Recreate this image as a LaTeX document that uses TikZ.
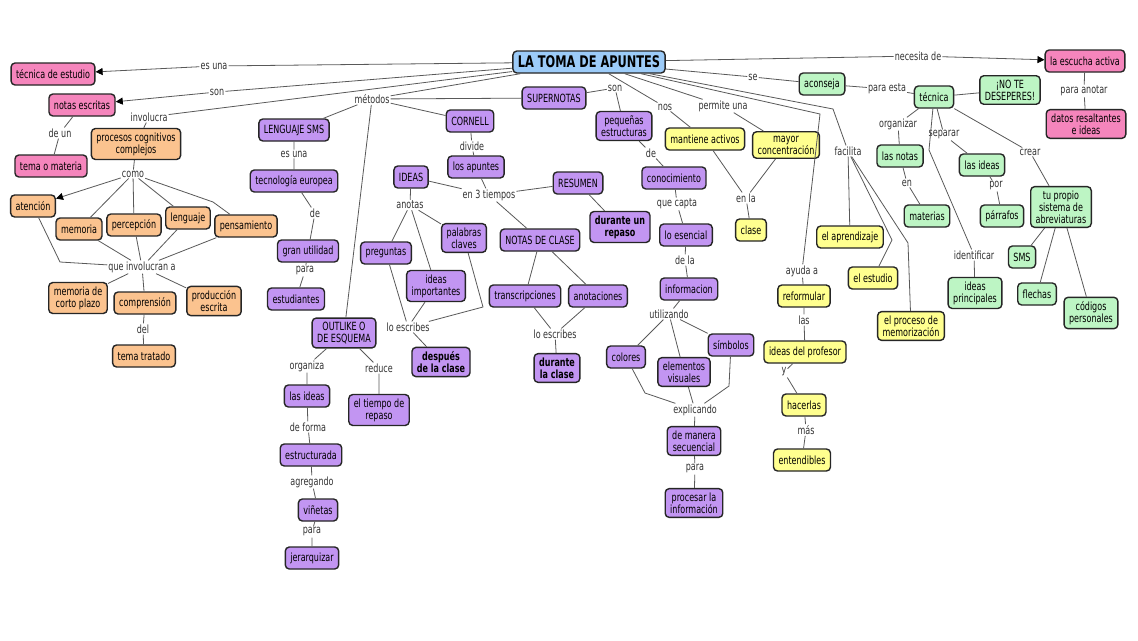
\documentclass[tikz,border=0pt]{standalone}
\usepackage{fontspec}
\setmainfont{DejaVu Sans}[FakeStretch=0.71]
\usetikzlibrary{arrows.meta}
\newcommand\mfs{\fontsize{11.3}{12}\selectfont}
\definecolor{cpink}{HTML}{F585BC}
\definecolor{corange}{HTML}{FBC38F}
\definecolor{cpurple}{HTML}{C295F2}
\definecolor{cyellow}{HTML}{FFFF8F}
\definecolor{cgreen}{HTML}{BDF5C4}
\definecolor{cblue}{HTML}{9CCBF8}
\tikzset{
 cn/.style={draw=black!85, line width=1.4pt, rounded corners=4pt, inner xsep=5pt, inner ysep=4pt, align=center, minimum height=22pt, font=\mfs},
 lk/.style={fill=white, inner sep=1pt, text=black!80, font=\mfs},
 pk/.style={cn, fill=cpink},
 orr/.style={cn, fill=corange},
 pu/.style={cn, fill=cpurple},
 ye/.style={cn, fill=cyellow},
 gr/.style={cn, fill=cgreen},
 ln/.style={draw=black!65, line width=0.8pt},
 arr/.style={ln, -{Triangle[length=7pt,width=7pt,color=black]}},
}
\begin{document}
\begin{tikzpicture}[x=1pt,y=-1pt]
\useasboundingbox[fill=white] (0,0) rectangle (1138,640);
% ---------- concepts ----------
\node[cn, fill=cblue, font=\fontsize{16}{18}\selectfont\bfseries, inner ysep=3pt] (T) at (589,62) {LA TOMA DE APUNTES};
\node[pk] (tec) at (53,74) {técnica de estudio};
\node[pk] (notas) at (82,105) {notas escritas};
\node[pk] (tema) at (51,166) {tema o materia};
\node[orr] (proc) at (136,144) {procesos cognitivos\\complejos};
\node[orr] (aten) at (33,206) {atención};
\node[orr] (memo) at (79,229) {memoria};
\node[orr] (perc) at (134,225) {percepción};
\node[orr] (leng) at (188,218) {lenguaje};
\node[orr] (pens) at (246,226) {pensamiento};
\node[orr] (mcp) at (78,298) {memoria de\\corto plazo};
\node[orr] (comp) at (145,303) {comprensión};
\node[orr] (prod) at (214,301) {producción\\escrita};
\node[orr] (tt) at (144,356) {tema tratado};
\node[pu] (sms) at (294,130) {LENGUAJE SMS};
\node[pu] (teu) at (294,181) {tecnología europea};
\node[pu] (gu) at (308,251) {gran utilidad};
\node[pu] (est) at (296,299) {estudiantes};
\node[pu] (outl) at (344,333) {OUTLIKE O\\DE ESQUEMA};
\node[pu] (ideas1) at (307,396) {las ideas};
\node[pu] (estr) at (311,455) {estructurada};
\node[pu] (vin) at (318,510) {viñetas};
\node[pu] (jer) at (312,558) {jerarquizar};
\node[pu] (tdr) at (379,410) {el tiempo de\\repaso};
\node[pu] (corn) at (470,121) {CORNELL};
\node[pu] (apun) at (476,167) {los apuntes};
\node[pu] (ideasC) at (411,177) {IDEAS};
\node[pu] (res) at (578,183) {RESUMEN};
\node[pu, font=\mfs\bfseries] (dur) at (620,227) {durante un\\repaso};
\node[pu] (preg) at (386,253) {preguntas};
\node[pu] (pc) at (464,238) {palabras\\claves};
\node[pu] (ii) at (436,286) {ideas\\importantes};
\node[pu, font=\mfs\bfseries] (ddc) at (441,362) {después\\de la clase};
\node[pu] (ndc) at (540,240) {NOTAS DE CLASE};
\node[pu] (tra) at (525,296) {transcripciones};
\node[pu] (ano) at (598,296) {anotaciones};
\node[pu, font=\mfs\bfseries] (dlc) at (557,368) {durante\\la clase};
\node[pu] (sup) at (554,98) {SUPERNOTAS};
\node[pu] (peq) at (624,126) {pequeñas\\estructuras};
\node[pu] (con) at (674,178) {conocimiento};
\node[pu] (ese) at (686,235) {lo esencial};
\node[pu] (inf) at (689,289) {informacion};
\node[pu] (col) at (626,357) {colores};
\node[pu] (ev) at (684,372) {elementos\\visuales};
\node[pu] (sim) at (731,345) {símbolos};
\node[pu] (dms) at (694,441) {de manera\\secuencial};
\node[pu] (pli) at (694,503) {procesar la\\información};
\node[ye] (ma) at (705,139) {mantiene activos};
\node[ye] (mc) at (786,145) {mayor\\concentración};
\node[ye] (cla) at (751,230) {clase};
\node[ye] (ref) at (804,296) {reformular};
\node[ye] (idp) at (805,352) {ideas del profesor};
\node[ye] (hac) at (804,405) {hacerlas};
\node[ye] (ent) at (802,460) {entendibles};
\node[ye] (apr) at (850,237) {el aprendizaje};
\node[ye] (estu) at (873,278) {el estudio};
\node[ye] (pme) at (911,326) {el proceso de\\memorización};
\node[gr] (acon) at (822,84) {aconseja};
\node[gr] (tecn) at (934,97) {técnica};
\node[gr] (nod) at (1010,90) {¡NO TE\\DESEPERES!};
\node[gr] (lnot) at (900,156) {las notas};
\node[gr] (mat) at (927,216) {materias};
\node[gr] (ideas2) at (982,165) {las ideas};
\node[gr] (parr) at (1002,216) {párrafos};
\node[gr] (tps) at (1061,207) {tu propio\\sistema de\\abreviaturas};
\node[gr] (smsg) at (1022,257) {SMS};
\node[gr] (fle) at (1037,294) {flechas};
\node[gr] (cp) at (1091,313) {códigos\\personales};
\node[gr] (ip) at (975,293) {ideas\\principales};
\node[pk] (esc) at (1085,61) {la escucha activa};
\node[pk] (drs) at (1086,124) {datos resaltantes\\e ideas};
% ---------- linking phrases ----------
\node[lk] (l_esuna) at (214,66) {es una};
\node[lk] (l_son1) at (217,92) {son};
\node[lk] (l_invol) at (149,117) {involucra};
\node[lk] (l_deun) at (60,133) {de un};
\node[lk] (l_como) at (133,174) {como};
\node[lk] (l_qia) at (142,267) {que involucran a};
\node[lk] (l_del) at (143,329) {del};
\node[lk] (l_met) at (372,99) {métodos};
\node[lk] (l_esuna2) at (294,154) {es una};
\node[lk] (l_de1) at (315,213) {de};
\node[lk] (l_para1) at (305,271) {para};
\node[lk] (l_org) at (307,366) {organiza};
\node[lk] (l_red) at (379,368) {reduce};
\node[lk] (l_def) at (308,427) {de forma};
\node[lk] (l_agr) at (312,482) {agregando};
\node[lk] (l_para2) at (312,532) {para};
\node[lk] (l_div) at (472,146) {divide};
\node[lk] (l_e3t) at (489,195) {en 3 tiempos};
\node[lk] (l_anot) at (410,205) {anotas};
\node[lk] (l_le1) at (408,327) {lo escribes};
\node[lk] (l_le2) at (555,334) {lo escribes};
\node[lk] (l_son2) at (615,88) {son};
\node[lk] (l_de2) at (651,153) {de};
\node[lk] (l_qc) at (677,204) {que capta};
\node[lk] (l_dela) at (685,260) {de la};
\node[lk] (l_uti) at (669,314) {utilizando};
\node[lk] (l_exp) at (695,410) {explicando};
\node[lk] (l_para3) at (695,469) {para};
\node[lk] (l_nos) at (665,107) {nos};
\node[lk] (l_perm) at (723,106) {permite una};
\node[lk] (l_enla) at (746,198) {en la};
\node[lk] (l_ayu) at (802,271) {ayuda a};
\node[lk] (l_las) at (804,320) {las};
\node[lk] (l_y) at (784,372) {y};
\node[lk] (l_mas) at (806,430) {más};
\node[lk] (l_fac) at (848,151) {facilita};
\node[lk] (l_se) at (753,77) {se};
\node[lk] (l_pe) at (887,89) {para esta};
\node[lk] (l_orgz) at (898,124) {organizar};
\node[lk] (l_en) at (907,183) {en};
\node[lk] (l_sep) at (944,135) {separar};
\node[lk] (l_por) at (996,186) {por};
\node[lk] (l_crear) at (1030,152) {crear};
\node[lk] (l_ident) at (974,255) {identificar};
\node[lk] (l_nec) at (918,56) {necesita de};
\node[lk] (l_pa) at (1084,91) {para anotar};
% bend points
\coordinate (b_pens) at (213,202);
\coordinate (b_aten) at (60,262);
\coordinate (b_pc) at (483,307);
\coordinate (b_col) at (645,393);
\coordinate (b_sim) at (729,386);
\coordinate (b_ayu) at (820,114);
\coordinate (b_fac) at (833,109);
\coordinate (b_estu) at (892,240);
\coordinate (b_pme) at (908,243);
\coordinate (b_ident) at (929,150);
% ---------- connectors ----------
\draw[ln] (T) -- (l_esuna); \draw[arr] (l_esuna) -- (tec);
\draw[ln] (T) -- (l_son1); \draw[arr] (l_son1) -- (notas);
\draw[ln] (T) -- (l_invol) -- (proc);
\draw[ln] (notas) -- (l_deun) -- (tema);
\draw[ln] (proc) -- (l_como);
\draw[arr] (l_como) -- (aten);
\draw[ln] (l_como) -- (memo);
\draw[ln] (l_como) -- (perc);
\draw[ln] (l_como) -- (leng);
\draw[ln] (l_como) -- (b_pens) -- (pens);
\draw[ln] (aten) -- (b_aten) -- (l_qia);
\draw[ln] (memo) -- (l_qia);
\draw[ln] (perc) -- (l_qia);
\draw[ln] (leng) -- (l_qia);
\draw[ln] (pens) -- (l_qia);
\draw[ln] (l_qia) -- (mcp);
\draw[ln] (l_qia) -- (comp);
\draw[ln] (l_qia) -- (prod);
\draw[ln] (comp) -- (l_del) -- (tt);
\draw[ln] (T) -- (l_met);
\draw[ln] (l_met) -- (sms);
\draw[ln] (l_met) -- (corn);
\draw[ln] (l_met) -- (sup);
\draw[ln] (l_met) -- (outl);
\draw[ln] (sms) -- (l_esuna2) -- (teu) -- (l_de1) -- (gu) -- (l_para1) -- (est);
\draw[ln] (outl) -- (l_org) -- (ideas1) -- (l_def) -- (estr) -- (l_agr) -- (vin) -- (l_para2) -- (jer);
\draw[ln] (outl) -- (l_red) -- (tdr);
\draw[ln] (corn) -- (l_div) -- (apun);
\draw[ln] (apun) -- (l_e3t) -- (ndc);
\draw[ln] (l_e3t) -- (ideasC);
\draw[ln] (l_e3t) -- (res);
\draw[ln] (res) -- (dur);
\draw[ln] (ideasC) -- (l_anot);
\draw[ln] (l_anot) -- (preg);
\draw[ln] (l_anot) -- (ii);
\draw[ln] (l_anot) -- (pc);
\draw[ln] (preg) -- (l_le1);
\draw[ln] (ii) -- (l_le1);
\draw[ln] (pc) -- (b_pc) -- (l_le1);
\draw[ln] (l_le1) -- (ddc);
\draw[ln] (ndc) -- (tra);
\draw[ln] (ndc) -- (ano);
\draw[ln] (tra) -- (l_le2);
\draw[ln] (ano) -- (l_le2);
\draw[ln] (l_le2) -- (dlc);
\draw[ln] (sup) -- (l_son2) -- (peq) -- (l_de2) -- (con) -- (l_qc) -- (ese) -- (l_dela) -- (inf) -- (l_uti);
\draw[ln] (l_uti) -- (col);
\draw[ln] (l_uti) -- (ev);
\draw[ln] (l_uti) -- (sim);
\draw[ln] (col) -- (b_col) -- (l_exp);
\draw[ln] (ev) -- (l_exp);
\draw[ln] (sim) -- (b_sim) -- (l_exp);
\draw[ln] (l_exp) -- (dms) -- (l_para3) -- (pli);
\draw[ln] (T) -- (l_nos) -- (ma);
\draw[ln] (T) -- (l_perm) -- (mc);
\draw[ln] (ma) -- (l_enla);
\draw[ln] (mc) -- (l_enla);
\draw[ln] (l_enla) -- (cla);
\draw[ln] (T) -- (b_ayu) -- (l_ayu) -- (ref) -- (l_las) -- (idp) -- (l_y) -- (hac) -- (l_mas) -- (ent);
\draw[ln] (T) -- (b_fac) -- (l_fac);
\draw[ln] (l_fac) -- (apr);
\draw[ln] (l_fac) -- (b_estu) -- (estu);
\draw[ln] (l_fac) -- (b_pme) -- (pme);
\draw[ln] (T) -- (l_se) -- (acon) -- (l_pe) -- (tecn);
\draw[ln] (tecn) -- (nod);
\draw[ln] (tecn) -- (l_orgz) -- (lnot) -- (l_en) -- (mat);
\draw[ln] (tecn) -- (l_sep) -- (ideas2) -- (l_por) -- (parr);
\draw[ln] (tecn) -- (l_crear) -- (tps);
\draw[ln] (tps) -- (smsg);
\draw[ln] (tps) -- (fle);
\draw[ln] (tps) -- (cp);
\draw[ln] (tecn) -- (b_ident) -- (l_ident) -- (ip);
\draw[ln] (T) -- (l_nec); \draw[arr] (l_nec) -- (esc);
\draw[ln] (esc) -- (l_pa) -- (drs);
\end{tikzpicture}
\end{document}
